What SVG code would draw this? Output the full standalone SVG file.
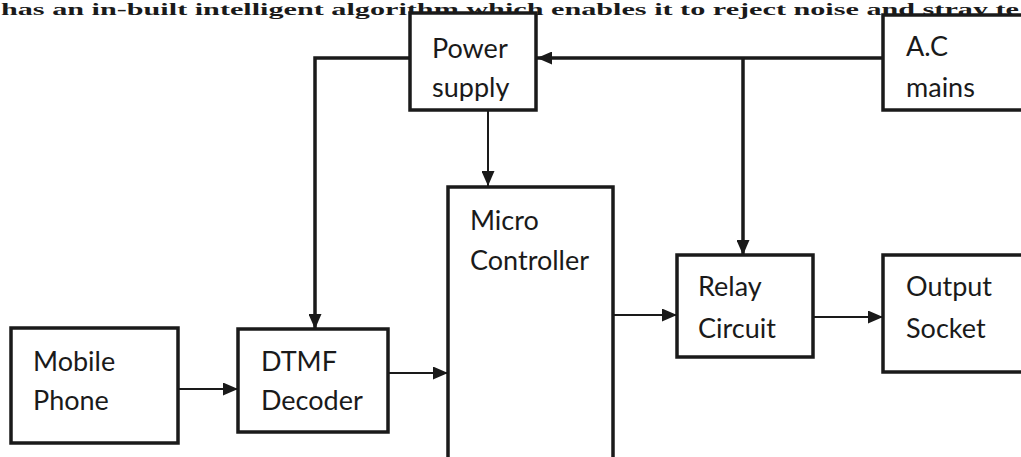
<svg xmlns="http://www.w3.org/2000/svg" width="1021" height="457" viewBox="0 0 1021 457">
<style>
.box{fill:#fff;stroke:#1a1a1a;stroke-width:3.5}
.lbl{font-family:Lato,"Open Sans",sans-serif;font-size:27px;fill:#1a1a1a}
.thick{fill:none;stroke:#1a1a1a;stroke-width:3.5}
.thin{fill:none;stroke:#1a1a1a;stroke-width:2}
.top{font-family:"Liberation Serif",serif;font-weight:bold;font-size:17px;fill:#1a1a1a}
</style>
<defs>
<marker id="ah" markerWidth="15" markerHeight="13" refX="15" refY="6.5" orient="auto" markerUnits="userSpaceOnUse">
<path d="M0,0 L15,6.5 L0,13 Z" fill="#1a1a1a"/>
</marker>
<clipPath id="psclip"><rect x="410" y="13" width="126" height="88"/></clipPath>
</defs>
<rect width="1021" height="457" fill="#fff"/>
<text class="top" x="1" y="15" textLength="1018" lengthAdjust="spacingAndGlyphs">has an in-built intelligent algorithm which enables it to reject noise and stray te</text>
<g id="connectors">
<path class="thick" d="M883,58 L537,58" marker-end="url(#ah)"/>
<path class="thick" d="M410,58 L315,58 L315,329" marker-end="url(#ah)"/>
<path class="thin" d="M488,110 L488,186" marker-end="url(#ah)"/>
<path class="thick" d="M743,58 L743,255" marker-end="url(#ah)"/>
<path class="thin" d="M178,389 L238,389" marker-end="url(#ah)"/>
<path class="thin" d="M388,373 L448,373" marker-end="url(#ah)"/>
<path class="thin" d="M613,315 L677,315" marker-end="url(#ah)"/>
<path class="thin" d="M813,317 L883,317" marker-end="url(#ah)"/>
</g>
<g id="power-supply">
<rect class="box" x="410" y="13" width="126" height="97"/>
<g clip-path="url(#psclip)">
<text class="lbl" x="432" y="58">Power</text>
<text class="lbl" x="432" y="97">supply</text>
</g>
</g>
<g id="ac-mains">
<rect class="box" x="883" y="15" width="160" height="95"/>
<text class="lbl" x="906" y="56">A.C</text>
<text class="lbl" x="906" y="97">mains</text>
</g>
<g id="mobile-phone">
<rect class="box" x="11" y="328" width="167" height="115"/>
<text class="lbl" x="33" y="371">Mobile</text>
<text class="lbl" x="33" y="410">Phone</text>
</g>
<g id="dtmf-decoder">
<rect class="box" x="238" y="329" width="150" height="103"/>
<text class="lbl" x="261" y="371">DTMF</text>
<text class="lbl" x="261" y="410">Decoder</text>
</g>
<g id="micro-controller">
<rect class="box" x="448" y="187" width="165" height="290"/>
<text class="lbl" x="470" y="230">Micro</text>
<text class="lbl" x="470" y="270">Controller</text>
</g>
<g id="relay-circuit">
<rect class="box" x="677" y="255" width="136" height="102"/>
<text class="lbl" x="698" y="296">Relay</text>
<text class="lbl" x="698" y="338">Circuit</text>
</g>
<g id="output-socket">
<rect class="box" x="883" y="255" width="160" height="117"/>
<text class="lbl" x="906" y="296">Output</text>
<text class="lbl" x="906" y="338">Socket</text>
</g>
</svg>
